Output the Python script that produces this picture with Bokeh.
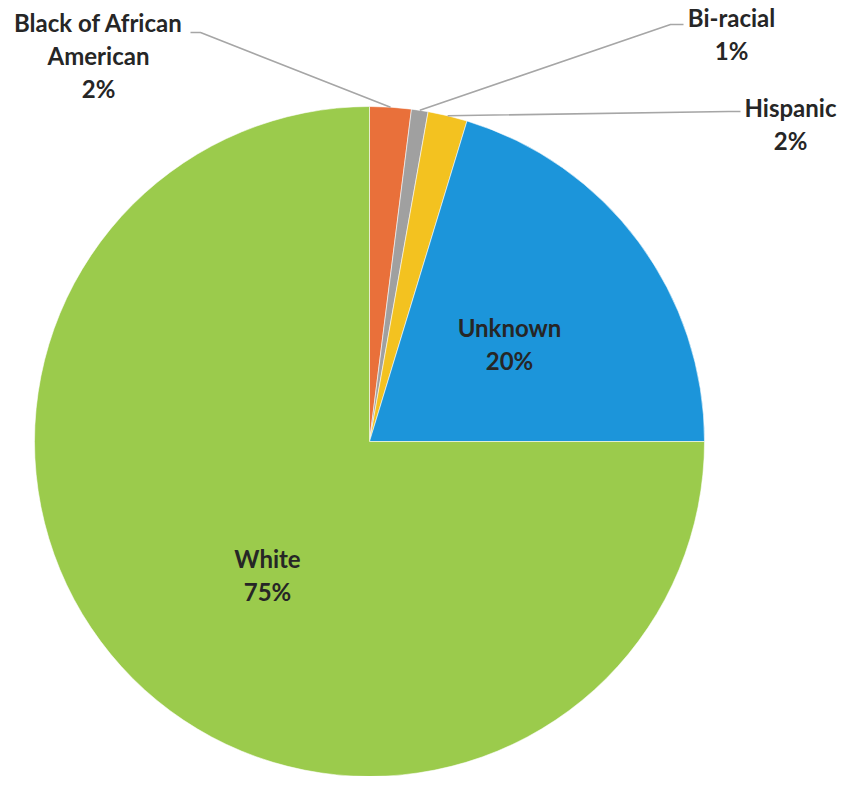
import math
from bokeh.plotting import figure
from bokeh.models import Range1d, ColumnDataSource
from bokeh.core.properties import value
from bokeh.embed import file_html
from bokeh.resources import INLINE

# ---- data ----
categories = ["Black of African American", "Bi-racial", "Hispanic", "Unknown", "White"]
shares = [2.0, 0.8, 1.9, 20.3, 75.0]          # percent of total
pct_labels = ["2%", "1%", "2%", "20%", "75%"]

# ---- style / layout ----
colors = ["#E9703A", "#A0A0A0", "#F3C220", "#1C95DA", "#9BCB4C"]
label_lines = {
    "Black of African American": ["Black of African", "American"],
}
CX, CY, R = 369, -441, 335
# label anchor (centre x, centre y of first line) in page-pixel units
label_anchor = {
    "Black of African American": (98, -22),
    "Bi-racial": (731, -17),
    "Hispanic": (790, -107),
    "Unknown": (509, -327),
    "White": (267, -558),
}
# leader lines: elbow point and end point for outside labels
leaders = {
    "Black of African American": [(200, -32), (190, -32)],
    "Bi-racial": [(670, -24), (683, -24)],
    "Hispanic": [(728, -111), (740, -111)],
}
LINE_GAP = 33
FONT = "Lato"
FSIZE = "24px"
TXT = "#262626"

total = sum(shares)
starts, ends, mids = [], [], []
cum = 0.0
for s in shares:
    a0 = math.pi / 2 - 2 * math.pi * cum / total
    cum += s
    a1 = math.pi / 2 - 2 * math.pi * cum / total
    starts.append(a0)
    ends.append(a1)
    mids.append((a0 + a1) / 2)

W, H = 838, 776
p = figure(width=W, height=H, x_range=Range1d(0, W), y_range=Range1d(-H, 0),
           output_backend="svg", toolbar_location=None, min_border=0)
p.axis.visible = False
p.grid.visible = False
p.outline_line_color = None
p.background_fill_color = "white"
p.border_fill_color = "white"

src = ColumnDataSource(dict(start=starts, end=ends, color=colors, cat=categories))
p.wedge(x=CX, y=CY, radius=R, start_angle="start", end_angle="end", direction="clock",
        fill_color="color", line_color="white", line_width=0.8, line_alpha=0.7, source=src)

# leader lines
for cat, m in zip(categories, mids):
    if cat in leaders:
        sx = CX + R * math.cos(m)
        sy = CY + R * math.sin(m)
        pts = [(sx, sy)] + leaders[cat]
        p.line([q[0] for q in pts], [q[1] for q in pts], line_color="#A6A6A6", line_width=1.6)

# labels
tx, ty, tt = [], [], []
for cat, pct in zip(categories, pct_labels):
    lines = label_lines.get(cat, [cat]) + [pct]
    ax, ay = label_anchor[cat]
    for i, ln in enumerate(lines):
        tx.append(ax)
        ty.append(ay - i * LINE_GAP)
        tt.append(ln)
p.text(x=tx, y=ty, text=tt, text_align="center", text_baseline="middle",
       text_font=value(FONT), text_font_size=FSIZE, text_font_style="bold", text_color=TXT)

open("out.html", "w").write(file_html(p, INLINE))
